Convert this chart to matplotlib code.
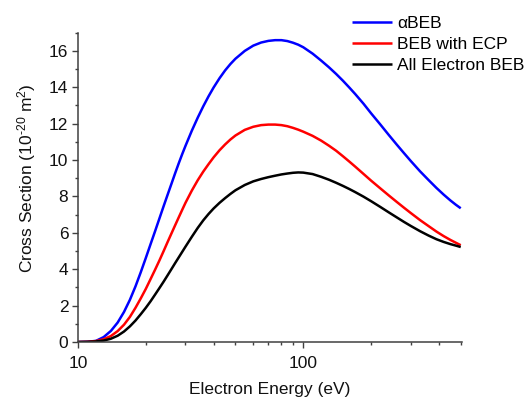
import matplotlib
matplotlib.use("Agg")
import matplotlib.pyplot as plt
from matplotlib.ticker import FixedLocator, LogLocator, NullFormatter, FixedFormatter

plt.rcParams['font.family'] = ['Liberation Sans', 'DejaVu Sans']
plt.rcParams['mathtext.fontset'] = 'custom'
plt.rcParams['mathtext.rm'] = 'Liberation Sans'
plt.rcParams['mathtext.it'] = 'Liberation Sans:italic'
plt.rcParams['mathtext.bf'] = 'Liberation Sans:bold'

energy = [10, 11, 12, 13, 14, 15, 16, 17, 18, 19, 20, 21, 22, 23, 24, 25, 26, 27, 28, 29,
          30, 32, 34, 36, 38, 40, 42.5, 45, 47.5, 50, 55, 60, 65, 70, 75, 80, 85, 90, 95,
          100, 110, 120, 130, 140, 150, 160, 170, 185, 200, 220, 240, 260, 280, 300, 330,
          360, 390, 420, 450, 475, 500]
alpha_beb = [0, 0.015, 0.06, 0.27, 0.61, 1.07, 1.65, 2.32, 3.06, 3.84, 4.62, 5.38, 6.1,
             6.8, 7.47, 8.1, 8.7, 9.28, 9.82, 10.32, 10.78, 11.61, 12.33, 12.96, 13.51,
             13.99, 14.5, 14.93, 15.28, 15.57, 16.0, 16.29, 16.46, 16.55, 16.59, 16.59,
             16.54, 16.45, 16.34, 16.2, 15.85, 15.47, 15.1, 14.73, 14.36, 13.99, 13.63,
             13.1, 12.57, 11.95, 11.37, 10.85, 10.38, 9.95, 9.38, 8.9, 8.47, 8.1, 7.78,
             7.55, 7.35]
beb_ecp = [0, 0.01, 0.05, 0.15, 0.33, 0.6, 0.95, 1.38, 1.88, 2.4, 2.92, 3.46, 3.98, 4.49,
           5.0, 5.5, 5.97, 6.42, 6.85, 7.26, 7.65, 8.32, 8.89, 9.37, 9.78, 10.15, 10.54,
           10.86, 11.13, 11.35, 11.66, 11.83, 11.92, 11.95, 11.95, 11.92, 11.86, 11.77,
           11.67, 11.56, 11.33, 11.07, 10.79, 10.51, 10.21, 9.92, 9.64, 9.24, 8.87, 8.44,
           8.05, 7.7, 7.38, 7.09, 6.7, 6.37, 6.07, 5.82, 5.61, 5.46, 5.32]
all_electron = [0, 0.008, 0.03, 0.08, 0.18, 0.345, 0.575, 0.86, 1.18, 1.53, 1.88, 2.24,
                2.61, 2.97, 3.32, 3.67, 4.01, 4.34, 4.65, 4.95, 5.24, 5.78, 6.27, 6.69,
                7.04, 7.34, 7.65, 7.91, 8.14, 8.34, 8.63, 8.83, 8.96, 9.06, 9.14, 9.21,
                9.26, 9.3, 9.32, 9.31, 9.23, 9.08, 8.92, 8.75, 8.58, 8.41, 8.24, 7.99,
                7.74, 7.42, 7.12, 6.85, 6.6, 6.38, 6.09, 5.85, 5.65, 5.5, 5.38, 5.3, 5.22]

series_labels = ['\u03b1BEB', 'BEB with ECP', 'All Electron BEB']
series_colors = ['#0000ff', '#ff0000', '#000000']
x_ticks = [10, 100]
x_ticklabels = ['10', '100']
y_ticks = [0, 2, 4, 6, 8, 10, 12, 14, 16]

fs = 12.5
axc = '#404040'

fig = plt.figure(figsize=(5.27, 3.98), dpi=100)
ax = fig.add_axes([78/527, 1-342/398, (461.7-78)/527, (342-32.7)/398])

for y, lab, col in zip([alpha_beb, beb_ecp, all_electron], series_labels, series_colors):
    ax.plot(energy, y, color=col, lw=1.8, label=lab, solid_capstyle='butt',
            solid_joinstyle='round')

ax.set_xscale('log')
ax.set_xlim(10, 505)
ax.set_ylim(0, 17)

ax.xaxis.set_major_locator(FixedLocator(x_ticks))
ax.xaxis.set_major_formatter(FixedFormatter(x_ticklabels))
ax.xaxis.set_minor_locator(LogLocator(base=10, subs=[2, 3, 4, 5, 6, 7, 8, 9]))
ax.xaxis.set_minor_formatter(NullFormatter())
ax.yaxis.set_major_locator(FixedLocator(y_ticks))
ax.yaxis.set_minor_locator(FixedLocator([1, 3, 5, 7, 9, 11, 13, 15, 17]))

for s in ['top', 'right']:
    ax.spines[s].set_visible(False)
for s in ['left', 'bottom']:
    ax.spines[s].set_color(axc)
    ax.spines[s].set_linewidth(1.1)

ax.tick_params(which='major', direction='out', length=4, width=1.0, color=axc,
               labelsize=fs, labelcolor='#111111')
ax.tick_params(axis='x', which='major', pad=6)
ax.tick_params(axis='y', which='major', pad=3)
ax.tick_params(which='minor', direction='out', length=2.4, width=1.0, color=axc)

ax.set_xlabel('Electron Energy (eV)', fontsize=fs, color='#111111')
ax.xaxis.set_label_coords(0.5, -0.128)
ax.set_ylabel(r'Cross Section (10$^{\text{-20}}$ m$^2$)', fontsize=fs, color='#111111')
ax.yaxis.set_label_coords(-0.105, 0.53)

leg = ax.legend(loc='upper left', bbox_to_anchor=(351.7/527, 1-16/398),
                bbox_transform=fig.transFigure, frameon=False, fontsize=fs,
                handlelength=2.3, handletextpad=0.3, labelspacing=0.33,
                borderpad=0, borderaxespad=0)

fig.savefig('out.png', dpi=100)
